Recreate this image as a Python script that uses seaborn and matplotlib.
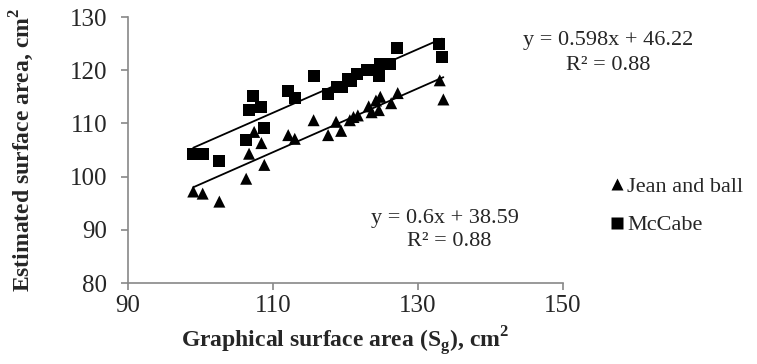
import numpy as np
import pandas as pd
import matplotlib
matplotlib.use("Agg")
import matplotlib.pyplot as plt
import seaborn as sns

# Jean and ball
jean_x = [99.0, 100.3, 102.6, 106.3, 106.7, 107.4, 108.4, 108.8, 112.1, 113.0,
          115.6, 117.6, 118.7, 119.4, 120.6, 121.1, 121.7, 123.2, 123.6, 124.2,
          124.6, 124.8, 126.3, 127.2, 133.0, 133.5]
jean_y = [97.2, 96.8, 95.3, 99.6, 104.3, 108.4, 106.3, 102.2, 107.8, 107.1,
          110.6, 107.8, 110.3, 108.6, 110.6, 111.2, 111.5, 113.2, 112.1, 114.3,
          112.5, 115.0, 113.8, 115.7, 118.1, 114.5]

# McCabe
mccabe_x = [99.0, 100.4, 102.6, 106.3, 106.7, 107.3, 108.4, 108.7, 112.1, 113.0,
            115.6, 117.6, 118.8, 119.5, 120.4, 120.8, 121.6, 123.0, 123.6, 124.6,
            124.8, 126.2, 127.1, 132.9, 133.3]
mccabe_y = [104.3, 104.3, 102.9, 106.8, 112.5, 115.2, 113.0, 109.1, 116.0, 114.8,
            119.0, 115.5, 116.8, 116.8, 118.4, 118.0, 119.2, 120.0, 120.0, 119.0,
            121.2, 121.2, 124.2, 124.9, 122.5]

# trendline coefficients shown on the chart
jean_fit = (0.6, 38.59)
mccabe_fit = (0.598, 46.22)

df = pd.concat([
    pd.DataFrame({"x": jean_x, "y": jean_y, "Method": "Jean and ball"}),
    pd.DataFrame({"x": mccabe_x, "y": mccabe_y, "Method": "McCabe"}),
])

sns.set_style("white")
plt.rcParams["font.family"] = ["Liberation Serif", "DejaVu Serif"]
plt.rcParams["mathtext.fontset"] = "custom"
plt.rcParams["mathtext.rm"] = "Liberation Serif"
plt.rcParams["mathtext.bf"] = "Liberation Serif:bold"

W, H = 757, 364
fig = plt.figure(figsize=(W / 100, H / 100), dpi=100)
ax = fig.add_axes([128 / W, 1 - 283 / H, (563 - 128) / W, (283 - 17) / H])

sns.scatterplot(data=df, x="x", y="y", hue="Method", style="Method",
                markers={"Jean and ball": "^", "McCabe": "s"},
                palette={"Jean and ball": "black", "McCabe": "black"},
                s=75, edgecolor="none", ax=ax, zorder=3)

for xs, (m, b) in [(jean_x, jean_fit), (mccabe_x, mccabe_fit)]:
    lx = np.array([min(xs), max(xs)])
    sns.lineplot(x=lx, y=m * lx + b, color="black", lw=1.3, ax=ax, zorder=2)

ax.set_xlim(90, 150)
ax.set_ylim(80, 130)
ax.set_xticks([90, 110, 130, 150])
ax.set_yticks([80, 90, 100, 110, 120, 130])
for s in ["top", "right"]:
    ax.spines[s].set_visible(False)
for s in ["left", "bottom"]:
    ax.spines[s].set_color("#888888")
    ax.spines[s].set_linewidth(1.2)
ax.tick_params(axis="both", which="both", direction="out", length=5, width=1.2,
               color="#888888", labelsize=18, left=True, bottom=True, pad=4)
ax.tick_params(axis="y", pad=10)

ax.set_xlabel("Graphical surface area (S$_\\mathbf{g}$), cm$^\\mathbf{2}$",
              fontsize=17, fontweight="bold", labelpad=5)
ax.set_ylabel("Estimated surface area, cm$^\\mathbf{2}$", fontsize=17,
              fontweight="bold", labelpad=24)

ax.text(608 / W, 1 - 40 / H, "y = 0.598x + 46.22", transform=fig.transFigure,
        ha="center", va="center", fontsize=16)
ax.text(608 / W, 1 - 65 / H, "R² = 0.88", transform=fig.transFigure,
        ha="center", va="center", fontsize=16)
ax.text(445 / W, 1 - 218 / H, "y = 0.6x + 38.59", transform=fig.transFigure,
        ha="center", va="center", fontsize=16)
ax.text(449 / W, 1 - 242 / H, "R² = 0.88", transform=fig.transFigure,
        ha="center", va="center", fontsize=16)

ax.legend(title=None, frameon=False, fontsize=16, loc="center left",
          bbox_to_anchor=(608 / W, 1 - 206 / H), bbox_transform=fig.transFigure,
          handletextpad=0.05, labelspacing=0.8, markerscale=0.95,
          borderaxespad=0.0, borderpad=0.0, handlelength=0.8)

fig.savefig("out.png", dpi=100)
